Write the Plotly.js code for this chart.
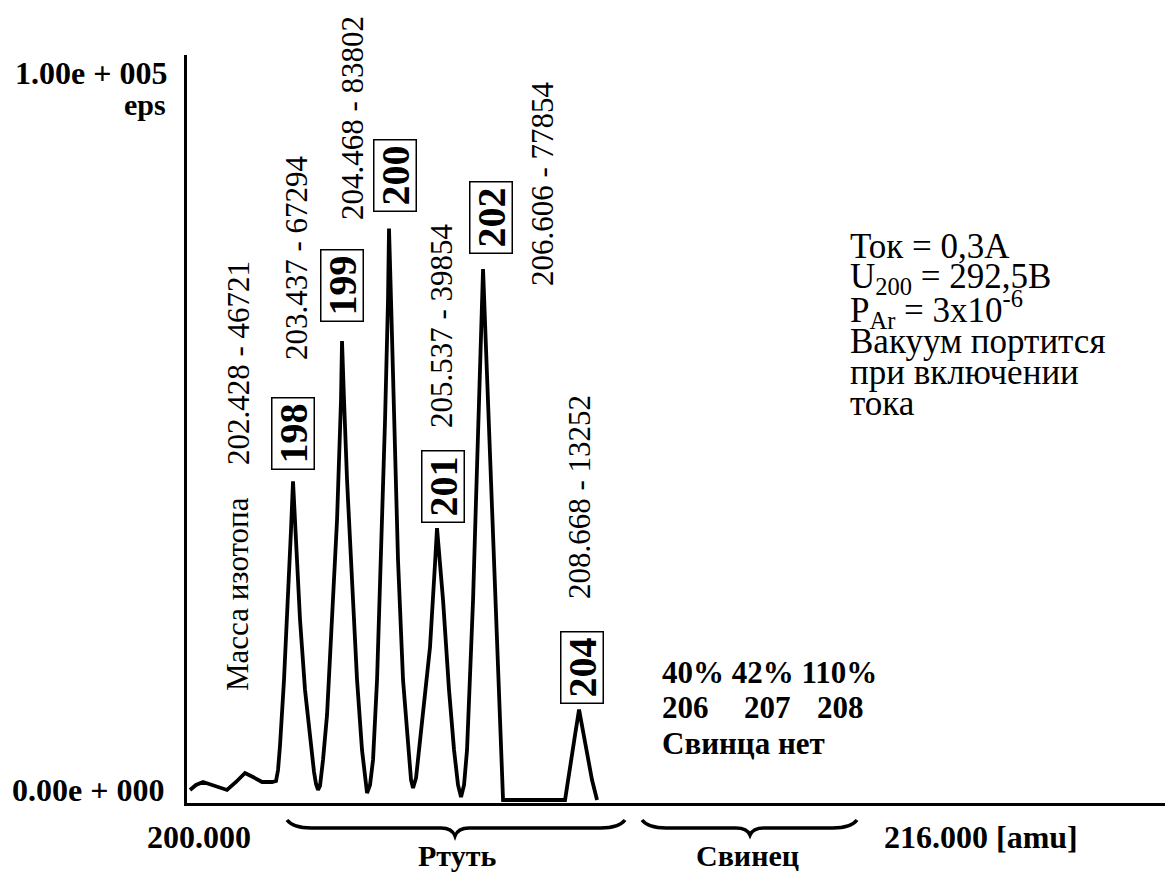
<!DOCTYPE html>
<html>
<head>
<meta charset="utf-8">
<script src="https://cdn.plot.ly/plotly-3.0.1.min.js"></script>
<style>html,body{margin:0;padding:0;background:#fff}#chart{width:1165px;height:872px}</style>
</head>
<body>
<div id="chart"></div>
<script>
// ---- data ----
const massAmu = [200.173,200.304,200.458,200.655,200.983,201.180,201.377,201.552,201.750,201.968,
  202.056,202.100,202.144,202.231,202.319,202.384,202.428,202.494,202.582,202.691,202.801,202.888,202.932,202.976,203.019,
  203.085,203.173,203.282,203.392,203.479,203.501,203.545,203.611,203.720,203.830,203.939,204.005,204.049,204.114,
  204.180,204.268,204.355,204.443,204.508,204.530,204.574,204.640,204.727,204.837,204.946,205.012,205.056,205.122,
  205.187,205.275,205.428,205.538,205.581,205.713,205.844,205.954,206.041,206.107,206.173,
  206.238,206.304,206.370,206.435,206.501,206.545,206.589,206.655,206.742,206.829,206.917,206.983,207.027,
  208.384,208.494,208.603,208.691,208.835,208.975,209.085];
const countsEps = [1470,2200,2640,2200,1470,2640,3960,3370,2640,2640,
  2790,4400,8060,17600,29330,39590,46720,38120,26390,16130,8800,4110,2350,1470,2050,
  5870,12460,26390,41060,58650,67290,58650,46920,32260,17600,7330,2930,1030,2200,
  5870,17600,35190,55720,73320,83800,73320,55720,35190,17600,7330,2930,1760,3230,
  7330,12760,22430,34750,39850,29330,16130,7330,2200,440,2200,
  7330,17600,29330,43990,58650,68920,77850,65980,49850,33720,17600,7330,0,
  0,4400,9530,13250,8060,2930,0];

const isotopes   = ['198','199','200','201','202','204'];
const peakMass   = [202.428, 203.437, 204.468, 205.537, 206.606, 208.668];
const peakCounts = [46721, 67294, 83802, 39854, 77854, 13252];

const yTopLabel = '1.00e + 005';
const yBottomLabel = '0.00e + 000';
const yUnit = 'eps';
const xLeftLabel = '200.000';
const xRightLabel = '216.000 [amu]';
const massCaption = 'Масса изотопа';
const groupNames = ['Ртуть', 'Свинец'];
const leadPercents = '40% 42% 110%';
const leadIsotopes = ['206', '207', '208'];
const leadNote = 'Свинца нет';
const conditions = ['Ток = 0,3А', 'U<sub>200</sub> = 292,5В', 'P<sub>Ar</sub> = 3x10<sup>-6</sup>',
  'Вакуум портится', 'при включении', 'тока'];

// ---- layout helpers (pixel -> paper) ----
const W = 1165, H = 872, ML = 187, MR = 0, MT = 55, MB = 69;
const PW = W - ML - MR, PH = H - MT - MB;
const px = x => (x - ML) / PW;
const py = y => (H - MB - y) / PH;

const FAM = 'Liberation Serif';
const ann = [];
function txt(text, x, y, size, bold, opts) {
  ann.push(Object.assign({
    xref: 'paper', yref: 'paper', x: px(x), y: py(y), text: bold ? '<b>' + text + '</b>' : text,
    showarrow: false, xanchor: 'center', yanchor: 'middle',
    font: {family: FAM, size: size, color: '#000'}
  }, opts || {}));
}

// axis end labels
txt(yTopLabel, 91, 73, 32, true);
txt(yUnit, 168, 104, 30, true, {xanchor: 'right'});
txt(yBottomLabel, 88, 790, 32, true);
txt(xLeftLabel, 199, 837, 32, true);
txt(xRightLabel, 882, 837, 32, true, {xanchor: 'left'});

// rotated mass - counts labels
const labelPos = [[238, 363], [296, 258], [352, 118], [441, 326], [542, 184], [580, 497]];
peakMass.forEach((m, i) => {
  txt(m.toFixed(3) + ' - ' + peakCounts[i], labelPos[i][0], labelPos[i][1], 31, false, {textangle: -90});
});
txt(massCaption, 237, 594, 31, false, {textangle: -90});

// boxed isotope numbers
const boxPos = [[293, 434], [342, 286], [395, 176], [443, 487], [491, 218], [582, 668]];
isotopes.forEach((iso, i) => {
  txt(iso, boxPos[i][0], boxPos[i][1], 40, true, {
    textangle: -90, bordercolor: '#000', borderwidth: 1.5, borderpad: 2, width: 66, height: 37
  });
});

// lead note
txt(leadPercents, 660, 672, 31, true, {xanchor: 'left'});
const leadX = [660, 742, 815];
leadIsotopes.forEach((s, i) => txt(s, leadX[i], 707, 31, true, {xanchor: 'left'}));
txt(leadNote, 660, 743, 31, true, {xanchor: 'left'});

// group captions
txt(groupNames[0], 457, 855, 30, true);
txt(groupNames[1], 747, 855, 30, true);

// conditions block
const condY = [246, 278, 309, 341, 372, 403];
conditions.forEach((c, i) => txt(c, 848, condY[i], 35, false, {xanchor: 'left'}));

// braces (decoration, pixel geometry -> paper)
function bracePath(x0, x1, xc, yEnd, yLine, yTip) {
  const P = (x, y) => px(x).toFixed(5) + ',' + py(y).toFixed(5);
  return 'M ' + P(x0, yEnd) + ' Q ' + P(x0 + 6, yLine) + ' ' + P(x0 + 24, yLine) +
    ' L ' + P(xc - 14, yLine) + ' Q ' + P(xc - 3, yLine) + ' ' + P(xc, yTip) +
    ' Q ' + P(xc + 3, yLine) + ' ' + P(xc + 14, yLine) +
    ' L ' + P(x1 - 24, yLine) + ' Q ' + P(x1 - 6, yLine) + ' ' + P(x1, yEnd);
}
const shapes = [
  {type: 'path', xref: 'paper', yref: 'paper', path: bracePath(287, 625, 455, 820, 828, 836), line: {color: '#000', width: 3.5}},
  {type: 'path', xref: 'paper', yref: 'paper', path: bracePath(642, 857, 750, 820, 828, 835), line: {color: '#000', width: 3.5}}
];

const trace = {
  x: massAmu, y: countsEps, type: 'scatter', mode: 'lines',
  line: {color: '#000', width: 3.8, shape: 'linear'}, hoverinfo: 'skip'
};

const layout = {
  width: W, height: H,
  font: {family: FAM, color: '#000'},
  margin: {l: ML, r: MR, t: MT, b: MB, pad: 0},
  paper_bgcolor: '#fff', plot_bgcolor: '#fff',
  showlegend: false,
  xaxis: {range: [200.107, 221.52], showline: true, linecolor: '#000', linewidth: 2.5,
    showgrid: false, zeroline: false, showticklabels: false, ticks: ''},
  yaxis: {range: [-440, 109240], showline: true, linecolor: '#000', linewidth: 2.5,
    showgrid: false, zeroline: false, showticklabels: false, ticks: ''},
  annotations: ann,
  shapes: shapes
};

Plotly.newPlot('chart', [trace], layout, {displayModeBar: false});
</script>
</body>
</html>
